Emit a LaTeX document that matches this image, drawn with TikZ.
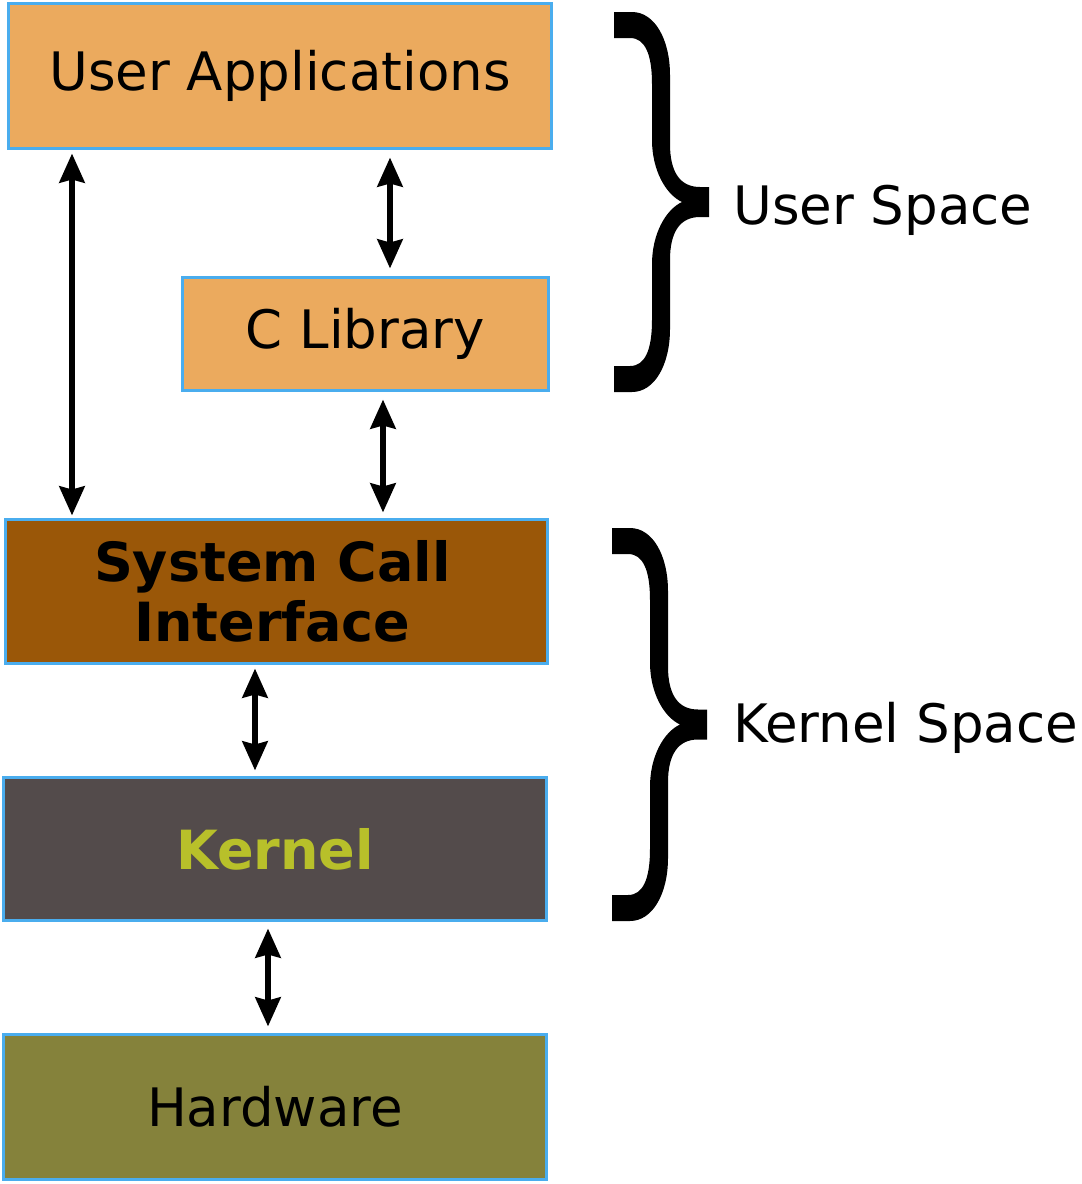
\documentclass[tikz,border=0pt]{standalone}
\usepackage{fontspec}
\setmainfont{DejaVu Sans}
\usetikzlibrary{arrows.meta}
\definecolor{bordblue}{HTML}{4AADEE}
\definecolor{uafill}{HTML}{EBAA5E}
\definecolor{scifill}{HTML}{9A5708}
\definecolor{kernfill}{HTML}{534B4B}
\definecolor{kerntext}{HTML}{B8C02A}
\definecolor{hwfill}{HTML}{85823B}
\newcommand\mybrace[3]{%
  \pgfmathsetmacro\braceM{(#2+#3)/2}%
  \fill ({#1},{#2}) -- ({#1+18},{#2})
    .. controls ({#1+41},{#2}) and ({#1+56},{#2+28}) .. ({#1+56},{#2+63})
    -- ({#1+56},{\braceM-58})
    .. controls ({#1+56},{\braceM-30}) and ({#1+66},{\braceM-15}) .. ({#1+86},{\braceM-15})
    -- ({#1+95},{\braceM-15}) -- ({#1+95},{\braceM+15}) -- ({#1+86},{\braceM+15})
    .. controls ({#1+66},{\braceM+15}) and ({#1+56},{\braceM+30}) .. ({#1+56},{\braceM+58})
    -- ({#1+56},{#3-63})
    .. controls ({#1+56},{#3-28}) and ({#1+41},{#3}) .. ({#1+18},{#3})
    -- ({#1},{#3}) -- ({#1},{#3-26}) -- ({#1+16},{#3-26})
    .. controls ({#1+31},{#3-26}) and ({#1+38},{#3-42}) .. ({#1+38},{#3-72})
    -- ({#1+38},{\braceM+62})
    .. controls ({#1+38},{\braceM+33}) and ({#1+51},{\braceM+8}) .. ({#1+68},{\braceM})
    .. controls ({#1+51},{\braceM-8}) and ({#1+38},{\braceM-33}) .. ({#1+38},{\braceM-62})
    -- ({#1+38},{#2+72})
    .. controls ({#1+38},{#2+42}) and ({#1+31},{#2+26}) .. ({#1+16},{#2+26})
    -- ({#1},{#2+26}) -- cycle;}
\begin{document}
\begin{tikzpicture}[x=1pt,y=-1pt,
  layer/.style={draw=bordblue, line width=3pt, inner sep=0pt, align=center,
    font=\fontsize{53}{60}\selectfont},
  boldlayer/.style={layer, font=\fontsize{54}{60}\selectfont\bfseries},
  dblarrow/.style={line width=6pt,
    {Stealth[length=29pt,width=25pt,inset=3pt]}-{Stealth[length=29pt,width=25pt,inset=3pt]}},
  spacelabel/.style={anchor=base west, inner sep=0pt, font=\fontsize{53}{60}\selectfont}]
\useasboundingbox (0,0) rectangle (1082,1184);
\fill[white] (0,0) rectangle (1082,1184);

\node[layer, fill=uafill, minimum width=543pt, minimum height=145pt] (ua) at (280,76) {User Applications};
\node[layer, fill=uafill, minimum width=366pt, minimum height=113pt] (clib) at (365.5,334) {C Library};
\node[boldlayer, fill=scifill, minimum width=542pt, minimum height=144pt] (sci) at (276.5,591.5) {\hspace*{-8pt}System Call\\\hspace*{-8pt}Interface};
\node[boldlayer, fill=kernfill, text=kerntext, minimum width=543pt, minimum height=143pt] (kern) at (275,849) {Kernel};
\node[layer, fill=hwfill, minimum width=543pt, minimum height=145pt] (hw) at (275,1107) {Hardware};

\coordinate (ax1) at (72,0);
\coordinate (ax2) at (390,0);
\coordinate (ax3) at (383,0);
\coordinate (ax4) at (255,0);
\coordinate (ax5) at (268,0);

\draw[dblarrow, shorten <=3.5pt, shorten >=2.5pt] (ua.south -| ax1) -- (sci.north -| ax1);
\draw[dblarrow, shorten <=7.5pt, shorten >=7.5pt] (ua.south -| ax2) -- (clib.north -| ax2);
\draw[dblarrow, shorten <=7.5pt, shorten >=5.5pt] (clib.south -| ax3) -- (sci.north -| ax3);
\draw[dblarrow, shorten <=3.5pt, shorten >=5.5pt] (sci.south -| ax4) -- (kern.north -| ax4);
\draw[dblarrow, shorten <=6.5pt, shorten >=6.5pt] (kern.south -| ax5) -- (hw.north -| ax5);

\mybrace{614}{12}{392}
\mybrace{612}{528}{921}

\node[spacelabel] (us) at (733,224) {User Space};
\node[spacelabel] (ks) at (733,742) {Kernel Space};
\end{tikzpicture}
\end{document}
